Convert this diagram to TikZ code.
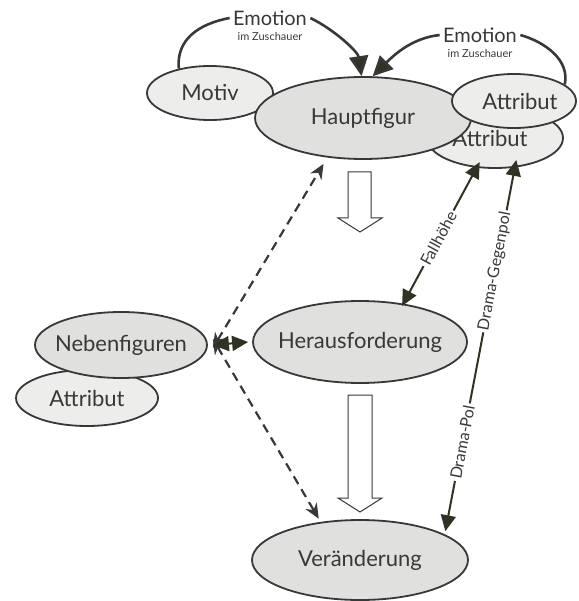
\documentclass[tikz,border=0pt]{standalone}
\usepackage{fontspec}
\setmainfont{Lato}
\usetikzlibrary{arrows.meta,shapes.geometric}
\definecolor{blobgray}{HTML}{E0E0DE}
\definecolor{lightblob}{HTML}{EDEDEB}
\definecolor{headdark}{HTML}{2F3323}
\definecolor{inkgray}{HTML}{383838}
\begin{document}
\begin{tikzpicture}
        [
            x=1pt, y=-1pt,
            blob/.style={ellipse, draw=inkgray, line width=1.8pt, fill=blobgray,
                inner xsep=-40pt, inner ysep=0pt, text=inkgray,
                font=\fontsize{22}{22}\selectfont},
            side/.style={blob, fill=lightblob},
            emo/.style={text=inkgray, font=\fontsize{20}{20}\selectfont},
            emosub/.style={text=inkgray, font=\fontsize{11}{11}\selectfont},
            curve/.style={line width=2.6pt, draw=inkgray},
            bigtip/.style={-{Triangle[length=20pt,width=19pt,fill=headdark]}},
            pair/.style={line width=2pt, draw=headdark,
                {Triangle[length=16pt,width=15pt,fill=headdark]}-{Triangle[length=16pt,width=15pt,fill=headdark]}},
            dashlink/.style={line width=2.2pt, draw=inkgray, dash pattern=on 9pt off 6pt,
                {Stealth[length=15pt,width=13pt]}-{Stealth[length=15pt,width=13pt]}},
            onlabel/.style={sloped, fill=white, inner sep=2pt, text=inkgray,
                font=\fontsize{16}{16}\selectfont},
            hollow/.style={draw=inkgray, line width=1pt, fill=white},
        ]
        \useasboundingbox (0,0) rectangle (578,601);
        % ellipses, back to front
        \node[side, minimum width=126pt, minimum height=54pt] (motiv) at (210,93) {Motiv};
        \node[side, minimum width=136pt, minimum height=60pt] (attrb) at (495,138) {\hspace*{-10pt}Attribut};
        \node[blob, minimum width=216pt, minimum height=82pt] (haupt) at (363,118) {Hauptfigur};
        \node[side, minimum width=124pt, minimum height=54pt] (attra) at (514,101) {\hspace*{12pt}Attribut};
        \node[side, minimum width=142pt, minimum height=56pt] (nattr) at (87,398) {Attribut};
        \node[blob, minimum width=172pt, minimum height=66pt] (neben) at (121,345) {Nebenfiguren};
        \node[blob, minimum width=214pt, minimum height=82pt] (heraus) at (360,342) {Herausforderung};
        \node[blob, minimum width=216pt, minimum height=80pt] (veraend) at (360,560) {Veränderung};
        % emotion labels
        \node[emo] (emoa) at (270,18) {Emotion};
        \node[emosub] (emoasub) at (270,36) {im Zuschauer};
        \node[emo] (emob) at (480,35) {Emotion};
        \node[emosub] (emobsub) at (480,53) {im Zuschauer};
        % emotion curves
        \draw[curve] (motiv.142) .. controls (176,40) and (198,24) .. (emoa.west);
        \draw[curve, bigtip] (emoa.east) .. controls (335,30) and (358,52) .. (haupt.92);
        \draw[curve] (emob.east) .. controls (545,42) and (570,60) .. (attra.18);
        \draw[curve, bigtip] (emob.west) .. controls (412,38) and (394,55) .. (haupt.77);
        % hollow arrows
        \draw[hollow] (348,172) -- (371,172) -- (371,218) -- (382,218) -- (360,232)
            -- (338,218) -- (348,218) -- cycle;
        \draw[hollow] (348,395) -- (372,395) -- (372,498) -- (382,498) -- (360,512)
            -- (338,498) -- (348,498) -- cycle;
        % dashed links
        \draw[dashlink] ([xshift=5pt,yshift=-3pt]neben.east) -- ([xshift=-6pt,yshift=-6pt]haupt.230);
        \draw[dashlink] ([xshift=5pt,yshift=6pt]neben.east) -- ([xshift=-3pt,yshift=3pt]veraend.135);
        \draw[pair] ([xshift=5pt]neben.east) -- ([xshift=-4pt]heraus.west);
        % Fallhoehe and Drama
        \draw[pair] ([xshift=3pt,yshift=-3pt]heraus.45) -- node[onlabel, pos=0.47] {Fallhöhe} ([yshift=6pt]attrb.243);
        \draw[pair] ([xshift=3pt,yshift=2pt]veraend.18)
            -- node[onlabel, pos=0.24] {Drama-Pol}
               node[onlabel, pos=0.70] {Drama-Gegenpol} ([xshift=4pt,yshift=8pt]attrb.300);
    \end{tikzpicture}
\end{document}
